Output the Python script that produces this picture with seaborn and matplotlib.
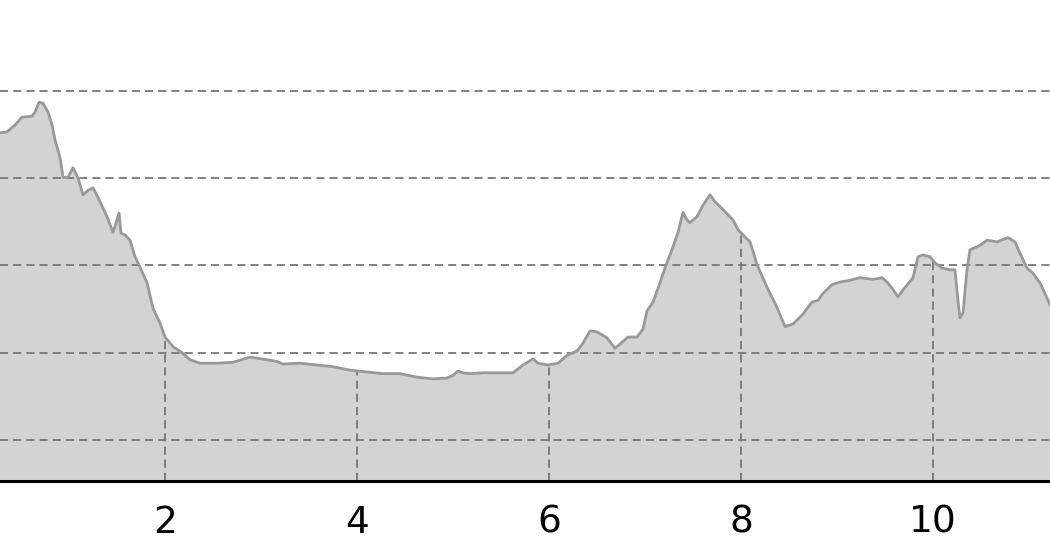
import matplotlib
matplotlib.use("Agg")
import matplotlib.pyplot as plt
import seaborn as sns
import pandas as pd

# distance (km) and elevation (m)
distance = [0.18, 0.281, 0.354, 0.438, 0.51, 0.615, 0.646, 0.688, 0.729, 0.781, 0.823, 0.854,
            0.906, 0.938, 0.99, 1.042, 1.094, 1.146, 1.198, 1.25, 1.302, 1.396, 1.458, 1.5,
            1.521, 1.542, 1.583, 1.635, 1.688, 1.74, 1.813, 1.875, 1.948, 2.0, 2.083, 2.177,
            2.26, 2.365, 2.542, 2.708, 2.885, 3.063, 3.167, 3.229, 3.406, 3.583, 3.75, 3.927,
            4.104, 4.271, 4.448, 4.625, 4.792, 4.938, 5.0, 5.052, 5.104, 5.177, 5.313, 5.49,
            5.625, 5.729, 5.833, 5.885, 5.99, 6.094, 6.188, 6.292, 6.354, 6.427, 6.5, 6.604,
            6.688, 6.76, 6.823, 6.917, 6.979, 7.021, 7.083, 7.156, 7.208, 7.281, 7.344, 7.396,
            7.438, 7.469, 7.542, 7.604, 7.677, 7.729, 7.813, 7.917, 7.969, 8.021, 8.094, 8.167,
            8.271, 8.375, 8.458, 8.542, 8.635, 8.74, 8.802, 8.854, 8.948, 9.031, 9.135, 9.24,
            9.375, 9.469, 9.521, 9.573, 9.635, 9.688, 9.792, 9.844, 9.896, 9.969, 10.021, 10.094,
            10.177, 10.229, 10.26, 10.281, 10.313, 10.354, 10.385, 10.49, 10.563, 10.667, 10.781,
            10.854, 10.906, 10.979, 11.042, 11.115, 11.219, 11.323]
elevation = [446, 452, 453, 461, 470, 471, 476, 487, 486, 476, 461, 444,
             424, 401, 401, 412, 400, 381, 386, 389, 378, 356, 338, 352,
             360, 337, 335, 329, 310, 298, 280, 251, 234, 218, 207, 200,
             192, 188, 188, 189, 195, 192, 190, 187, 188, 186, 184, 180,
             178, 176, 176, 172, 170, 171, 174, 179, 177, 176, 177, 177,
             177, 186, 193, 188, 186, 188, 197, 202, 211, 225, 224, 217,
             205, 212, 218, 218, 227, 248, 258, 280, 297, 318, 338, 361,
             352, 349, 356, 369, 381, 373, 364, 352, 341, 335, 327, 301,
             275, 252, 230, 233, 243, 258, 260, 268, 278, 281, 283, 286,
             284, 286, 281, 274, 264, 272, 286, 310, 312, 310, 303, 297,
             295, 295, 260, 240, 246, 295, 318, 323, 329, 327, 332,
             327, 314, 297, 291, 280, 255, 235]

x_ticks = [2, 4, 6, 8, 10]
y_grid = [100, 200, 300, 400, 500]

df = pd.DataFrame({"distance": distance, "elevation": elevation})

sns.set_style("white")
plt.rcParams["font.family"] = ["DejaVu Sans"]

fig = plt.figure(figsize=(10.5, 5.6), dpi=100)
ax = fig.add_axes([0.0, 79 / 560, 1.0, 1 - 79 / 560])

y_bottom = 53.0
ax.set_xlim(0.28125, 11.21875)
ax.set_ylim(y_bottom, 604.2)

poly = ax.fill_between(df["distance"], df["elevation"], y_bottom,
                       color="#d3d3d3", linewidth=0, zorder=1)
sns.lineplot(data=df, x="distance", y="elevation", ax=ax, color="#999999",
             linewidth=2.0, zorder=3, sort=False)

ax.set_xticks(x_ticks)
ax.set_xticklabels([str(t) for t in x_ticks])
ax.set_yticks(y_grid)
ax.set_yticklabels([])
ax.tick_params(axis="x", length=0, pad=17, labelsize=27, colors="black")
ax.tick_params(axis="y", length=0)

dash = (0, (4.5, 2.8))
ax.grid(axis="y", color="#777777", linestyle=dash, linewidth=1.3, zorder=2)
ax.grid(axis="x", color="#777777", linestyle=dash, linewidth=1.3, zorder=2)
ax.set_axisbelow(False)

clip_path = poly.get_paths()[0]
for gl in ax.get_xgridlines():
    gl.set_clip_path(clip_path, ax.transData)

for side in ["left", "right", "top"]:
    ax.spines[side].set_visible(False)
ax.spines["bottom"].set_color("black")
ax.spines["bottom"].set_linewidth(2.2)
ax.spines["bottom"].set_zorder(5)

ax.set_xlabel("")
ax.set_ylabel("")

fig.savefig("out.png", dpi=100)
